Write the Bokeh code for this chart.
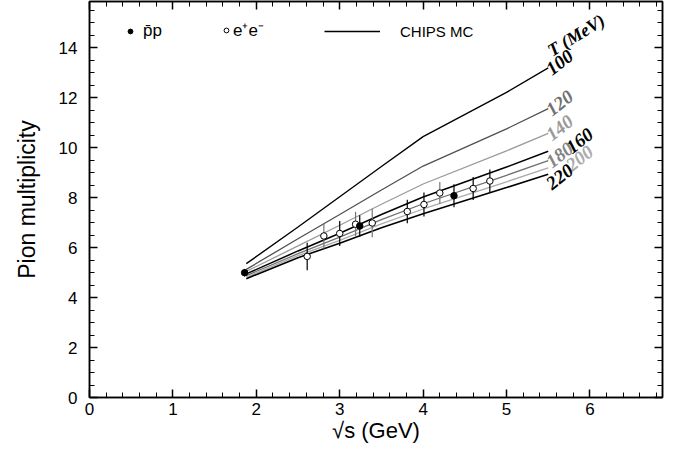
from bokeh.plotting import figure
from bokeh.models import Range1d, LinearAxis, Legend, LegendItem, SingleIntervalTicker
from bokeh.core.properties import value
from bokeh.embed import file_html
from bokeh.resources import INLINE

# ---------------- data ----------------
# CHIPS MC curves: pion multiplicity vs sqrt(s) for several temperatures T (MeV)
sqrt_s_mc = [1.88, 2.5, 3.0, 3.5, 4.0, 5.0, 5.5]
temps = ["100", "120", "140", "160", "180", "200", "220"]
mult_T100 = [5.36, 6.83, 8.04, 9.25, 10.45, 12.22, 13.20]
mult_T120 = [5.13, 6.36, 7.33, 8.31, 9.27, 10.76, 11.57]
mult_T140 = [5.05, 6.07, 6.90, 7.74, 8.55, 9.88, 10.58]
mult_T160 = [4.95, 5.87, 6.58, 7.33, 8.03, 9.23, 9.86]
mult_T180 = [4.88, 5.76, 6.42, 7.12, 7.76, 8.90, 9.49]
mult_T200 = [4.82, 5.68, 6.29, 6.95, 7.55, 8.64, 9.20]
mult_T220 = [4.76, 5.60, 6.18, 6.80, 7.36, 8.41, 8.94]

# e+e- data (two groups of measurements)
ee1_sqrt_s = [2.61, 3.00, 3.81, 4.01, 4.60, 4.80]
ee1_mult = [5.65, 6.57, 7.45, 7.73, 8.37, 8.67]
ee1_err = [0.55, 0.50, 0.47, 0.48, 0.46, 0.46]
ee2_sqrt_s = [2.81, 3.19, 3.39, 4.20]
ee2_mult = [6.47, 6.94, 6.99, 8.19]
ee2_err = [0.50, 0.50, 0.57, 0.44]

# p-bar p data
pp_sqrt_s = [1.86, 3.24, 4.37]
pp_mult = [5.00, 6.87, 8.08]
pp_err = [0.15, 0.43, 0.46]

x_ticks_interval = 1
y_ticks_interval = 2

# ---------------- figure ----------------
p = figure(width=665, height=445, output_backend="svg", toolbar_location=None,
           x_range=Range1d(0, 6.87), y_range=Range1d(0, 15.86),
           min_border_left=89, min_border_right=3, min_border_top=1, min_border_bottom=46)
p.grid.visible = False
p.background_fill_color = "white"
p.border_fill_color = "white"
p.outline_line_color = "black"
p.outline_line_width = 1.5

FONT = "Liberation Sans"
xt = SingleIntervalTicker(interval=x_ticks_interval, num_minor_ticks=5)
yt = SingleIntervalTicker(interval=y_ticks_interval, num_minor_ticks=4)

def style_axis(ax, labels=True):
    ax.axis_line_color = "black"
    ax.axis_line_width = 1.5
    ax.major_tick_line_color = "black"
    ax.minor_tick_line_color = "black"
    ax.major_tick_line_width = 1.5
    ax.minor_tick_line_width = 1
    ax.major_tick_in = 8
    ax.major_tick_out = 0
    ax.minor_tick_in = 5
    ax.minor_tick_out = 0
    if labels:
        ax.major_label_text_font = FONT
        ax.major_label_text_font_size = "17px"
        ax.major_label_text_color = "black"
        ax.axis_label_text_font = FONT
        ax.axis_label_text_font_style = "normal"
        ax.axis_label_text_color = "black"
    else:
        ax.major_label_text_color = None
        ax.major_label_text_alpha = 0
        ax.major_label_text_font_size = "0px"
        ax.major_label_standoff = 0

p.xaxis[0].ticker = xt
p.yaxis[0].ticker = yt
style_axis(p.xaxis[0])
style_axis(p.yaxis[0])
p.xaxis[0].axis_label = "√s (GeV)"
p.yaxis[0].axis_label = "Pion multiplicity"
p.xaxis[0].axis_label_text_font_size = "22px"
p.yaxis[0].axis_label_text_font_size = "23px"
p.xaxis[0].major_label_standoff = 5
p.yaxis[0].major_label_standoff = 12
p.xaxis[0].axis_label_standoff = 0
p.yaxis[0].axis_label_standoff = 16

top_ax = LinearAxis(ticker=xt)
right_ax = LinearAxis(ticker=yt)
style_axis(top_ax, labels=False)
style_axis(right_ax, labels=False)
p.add_layout(top_ax, "above")
p.add_layout(right_ax, "right")

# ---------------- curves ----------------
curves = [mult_T100, mult_T120, mult_T140, mult_T160, mult_T180, mult_T200, mult_T220]
line_colors = ["black", "#505050", "#9a9a9a", "black", "#707070", "#ababab", "black"]
line_widths = [1.4, 1.3, 1.3, 1.5, 1.3, 1.3, 1.6]
label_colors = ["black", "#707070", "#9a9a9a", "black", "#858585", "#ababab", "black"]
label_dx = [0, 0, 0, 20, 0, 20, 0]
label_dy = [3, 3, 3, -2, 3, -1, 11]

renderers = []
for vals, lc, lw in zip(curves, line_colors, line_widths):
    renderers.append(p.line(sqrt_s_mc, vals, line_color=lc, line_width=lw))

for i, (vals, t) in enumerate(zip(curves, temps)):
    p.text(x=[sqrt_s_mc[-1]], y=[vals[-1]], text=[t], angle=0.66,
           text_font=value("Liberation Serif"), text_font_style="bold italic",
           text_font_size="19px", text_color=label_colors[i],
           text_align="left", text_baseline="alphabetic",
           x_offset=label_dx[i], y_offset=label_dy[i])

p.text(x=[sqrt_s_mc[-1]], y=[mult_T100[-1]], text=["T (MeV)"], angle=0.55,
       text_font=value("Liberation Serif"), text_font_style="bold italic",
       text_font_size="18px", text_color="black",
       text_align="left", text_baseline="alphabetic", x_offset=1, y_offset=-16)

# ---------------- data points ----------------
def lo(v, e):
    return [a - b for a, b in zip(v, e)]

def hi(v, e):
    return [a + b for a, b in zip(v, e)]

p.segment(ee1_sqrt_s, lo(ee1_mult, ee1_err), ee1_sqrt_s, hi(ee1_mult, ee1_err),
          line_color="black", line_width=1.2)
p.segment(ee2_sqrt_s, lo(ee2_mult, ee2_err), ee2_sqrt_s, hi(ee2_mult, ee2_err),
          line_color="#777777", line_width=1.2)
p.segment(pp_sqrt_s, lo(pp_mult, pp_err), pp_sqrt_s, hi(pp_mult, pp_err),
          line_color="black", line_width=1.2)

r_ee = p.scatter(ee1_sqrt_s, ee1_mult, size=6.5, fill_color="white", line_color="black", line_width=1)
p.scatter(ee2_sqrt_s, ee2_mult, size=6.5, fill_color="white", line_color="black", line_width=1)
r_pp = p.scatter(pp_sqrt_s, pp_mult, size=6.5, fill_color="black", line_color="black")

# ---------------- legend ----------------
def make_legend(label, rend, x, gw, standoff, fs):
    leg = Legend(items=[LegendItem(label=label, renderers=[rend])],
                 location=(x, 356), orientation="horizontal",
                 glyph_width=gw, glyph_height=20, label_height=20,
                 label_standoff=standoff, padding=0, margin=0, spacing=0,
                 border_line_color=None, background_fill_alpha=0,
                 label_text_font=FONT, label_text_font_size=fs,
                 label_text_color="black")
    p.add_layout(leg)

make_legend("p̄p", r_pp, 35, 12, 7, "17px")
make_legend("e⁺e⁻", r_ee, 131, 12, 1, "17px")
make_legend("CHIPS MC", renderers[0], 235, 56, 20, "15px")

open("out.html", "w").write(file_html(p, INLINE))
